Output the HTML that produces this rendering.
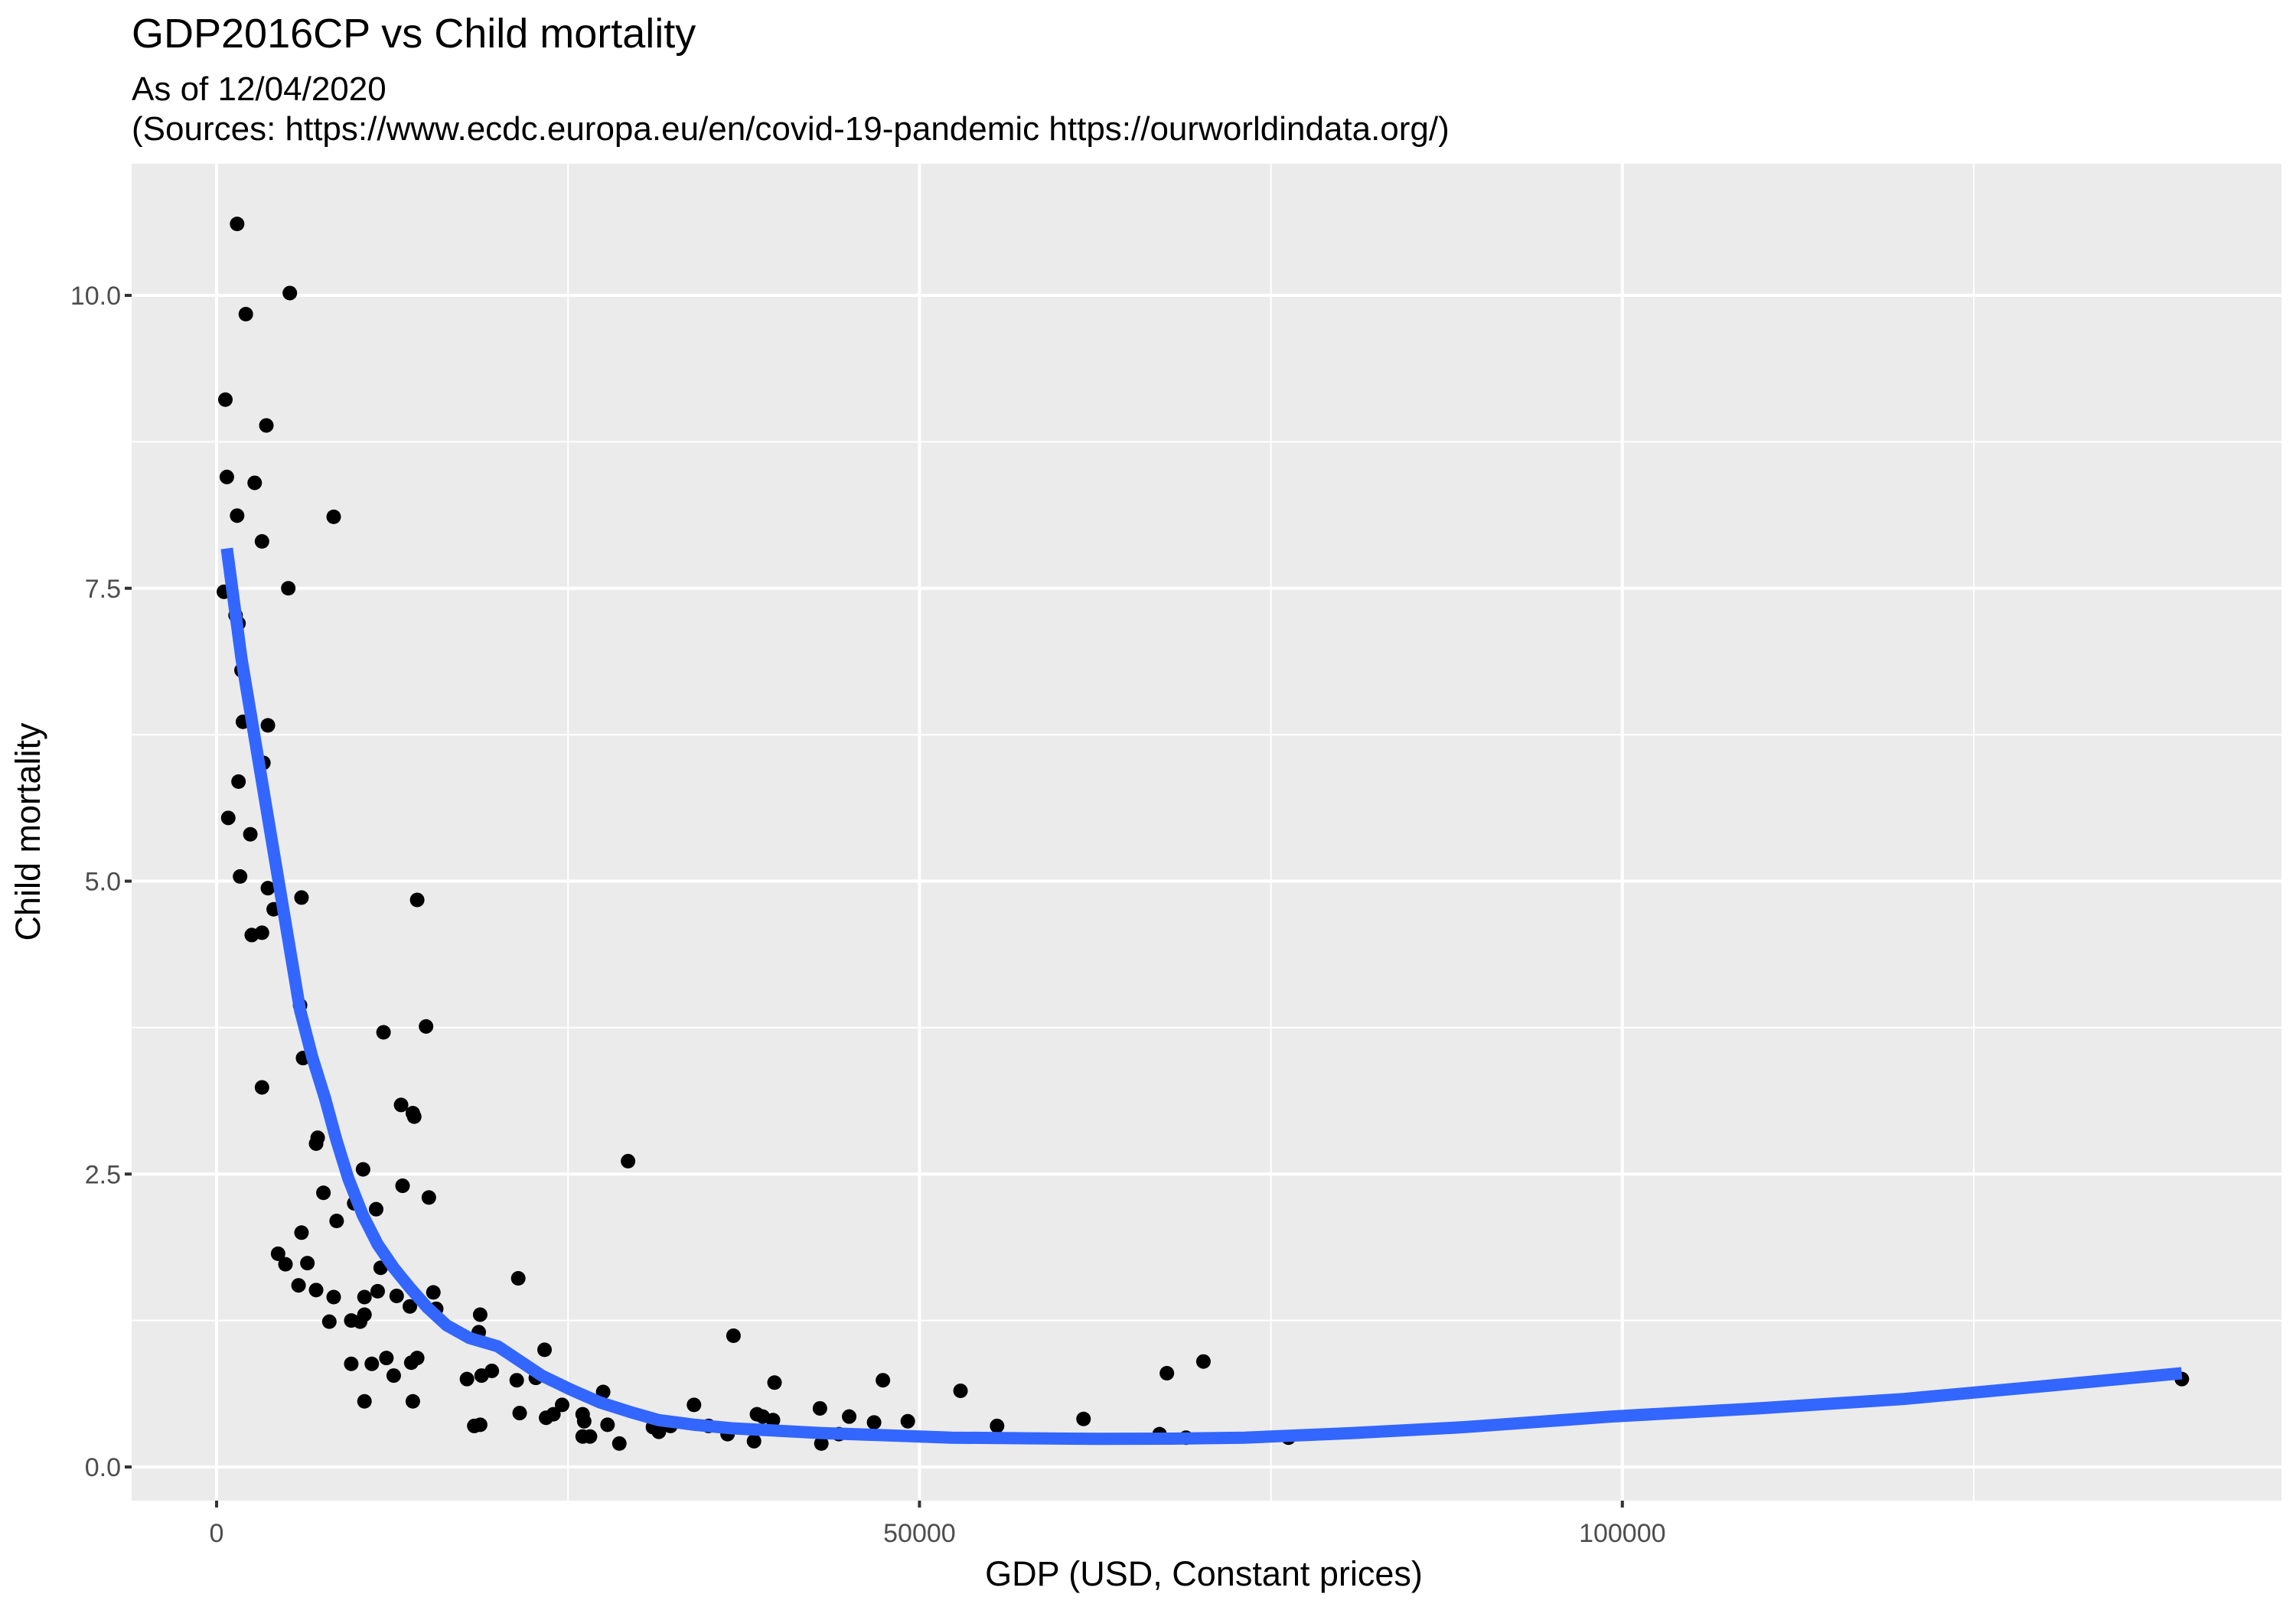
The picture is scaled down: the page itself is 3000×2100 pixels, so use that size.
<!DOCTYPE html>
<html><head><meta charset="utf-8"><style>
body{margin:0;background:#fff}
svg{display:block;font-family:"Liberation Sans",sans-serif}
</style></head><body>
<svg id="chart" width="3000" height="2100" viewBox="0 0 3000 2100">
<text x="172" y="62" font-size="54" fill="#000">GDP2016CP vs Child mortality</text>
<text x="172" y="131" font-size="44" fill="#000">As of 12/04/2020</text>
<text x="172" y="183" font-size="44" fill="#000">(Sources: https://www.ecdc.europa.eu/en/covid-19-pandemic https://ourworldindata.org/)</text>
<rect x="172" y="214" width="2809" height="1747" fill="#ebebeb"/>
<g id="grid"></g><g id="pts"></g><g id="fit"></g><g id="axes"></g>
<text x="1573" y="2072" font-size="45" text-anchor="middle" fill="#000">GDP (USD, Constant prices)</text>
<text transform="translate(52,1087) rotate(-90)" font-size="45" text-anchor="middle" fill="#000">Child mortality</text>
</svg>
<script>
const xTicks=[0,50000,100000];
const xTickLabels=["0","50000","100000"];
const xMinor=[25000,75000,125000];
const yTicks=[0,2.5,5,7.5,10];
const yTickLabels=["0.0","2.5","5.0","7.5","10.0"];
const yMinor=[1.25,3.75,6.25,8.75];
const gdp=[1460,5210,2080,625,3540,730,2710,1460,8330,3230,520,5100,1350,1560,1770,1875,3650,3330,830,1560,2400,1670,3650,6040,4060,14270,2500,3230,5940,6150,11875,14900,3230,7190,7080,13125,13960,14060,29270,10420,7600,13230,15100,9790,11350,8540,6040,4375,4900,6460,11670,21460,5830,7080,11460,15420,8330,10520,12810,13750,15625,18750,10520,9580,10210,8020,18650,23330,36770,9580,11040,12080,12600,14270,13850,19580,17810,18850,21350,22710,47400,39690,52920,67600,70200,10520,13960,21560,24580,27500,33960,42920,23440,23960,26040,18330,18750,26150,27810,31040,31460,32290,35000,36350,38440,38850,39580,45000,46770,49170,55520,61670,26040,26560,28650,38230,43020,44270,67080,68960,76250,139800];
const mortality=[10.61,10.02,9.84,9.11,8.89,8.45,8.4,8.12,8.11,7.9,7.47,7.5,7.27,7.2,6.8,6.36,6.33,6.01,5.54,5.85,5.4,5.04,4.94,4.86,4.76,4.84,4.54,4.56,3.94,3.49,3.71,3.76,3.24,2.81,2.76,3.09,3.02,2.99,2.61,2.54,2.34,2.4,2.3,2.25,2.2,2.1,2.0,1.82,1.73,1.74,1.7,1.61,1.55,1.51,1.5,1.49,1.45,1.45,1.46,1.37,1.35,1.3,1.3,1.25,1.24,1.24,1.15,1.0,1.12,0.88,0.88,0.93,0.78,0.93,0.89,0.82,0.75,0.78,0.74,0.76,0.74,0.72,0.65,0.8,0.9,0.56,0.56,0.46,0.53,0.64,0.53,0.5,0.42,0.45,0.45,0.35,0.36,0.39,0.36,0.34,0.3,0.35,0.35,0.28,0.45,0.43,0.4,0.43,0.38,0.39,0.35,0.41,0.26,0.26,0.2,0.22,0.2,0.28,0.28,0.25,0.25,0.75];
const fitX=[729,1771,2813,3854,4896,5938,6800,7708,8500,9375,10400,11458,12600,13750,15000,16354,18000,20000,21500,23125,25200,27292,29400,31458,34000,36667,39800,42917,47600,52292,57500,62708,67900,73125,80900,88750,94000,99167,109600,120000,130000,139792];
const fitY=[7.84,6.90,6.15,5.40,4.65,3.90,3.50,3.15,2.80,2.46,2.15,1.90,1.70,1.53,1.36,1.21,1.10,1.03,0.91,0.78,0.66,0.55,0.47,0.40,0.36,0.33,0.31,0.29,0.27,0.25,0.245,0.24,0.242,0.25,0.29,0.34,0.385,0.43,0.50,0.58,0.69,0.80];
const NS="http://www.w3.org/2000/svg";
const X0=172,X1=2981,Y0=214,Y1=1961;
const sx=v=>283+v*918.4/50000;
const sy=v=>1917-v*153.1;
function mk(tag,attrs,parent){const e=document.createElementNS(NS,tag);for(const k in attrs)e.setAttribute(k,attrs[k]);document.getElementById(parent).appendChild(e);return e;}
xMinor.forEach(v=>{const e=mk('line',{x1:sx(v),x2:sx(v),y1:Y0,y2:Y1,stroke:'#fff','stroke-width':2},'grid');

});
yMinor.forEach(v=>{const e=mk('line',{x1:X0,x2:X1,y1:sy(v),y2:sy(v),stroke:'#fff','stroke-width':2},'grid');

});
xTicks.forEach((v,i)=>{const e=mk('line',{x1:sx(v),x2:sx(v),y1:Y0,y2:Y1,stroke:'#fff','stroke-width':4},'grid');


const t=mk('line',{x1:sx(v),x2:sx(v),y1:Y1,y2:Y1+9,stroke:'#333','stroke-width':4},'axes');


const l=mk('text',{x:sx(v),y:2015,'font-size':34,'text-anchor':'middle',fill:'#4d4d4d'},'axes');l.textContent=xTickLabels[i];

});
yTicks.forEach((v,i)=>{const e=mk('line',{x1:X0,x2:X1,y1:sy(v),y2:sy(v),stroke:'#fff','stroke-width':4},'grid');


const t=mk('line',{x1:X0-9,x2:X0,y1:sy(v),y2:sy(v),stroke:'#333','stroke-width':4},'axes');


const l=mk('text',{x:X0-14,y:sy(v)+12,'font-size':34,'text-anchor':'end',fill:'#4d4d4d'},'axes');l.textContent=yTickLabels[i];

});
gdp.forEach((v,i)=>{const c=mk('circle',{cx:sx(v),cy:sy(mortality[i]),r:9.5,fill:'#000'},'pts');

});
const p=mk('polyline',{points:fitX.map((v,i)=>sx(v)+','+sy(fitY[i])).join(' '),fill:'none',stroke:'#3366ff','stroke-width':16,'stroke-linejoin':'round'},'fit');


</script>
</body></html>
